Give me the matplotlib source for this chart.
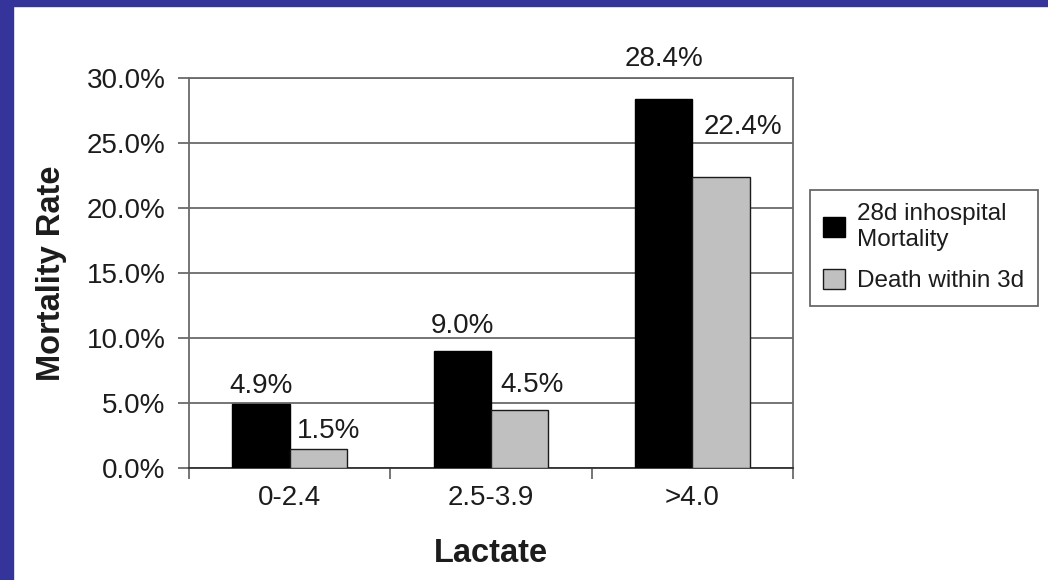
import matplotlib.pyplot as plt
from matplotlib.patches import Rectangle
from matplotlib.ticker import FixedLocator, FuncFormatter

plt.rcParams['font.family'] = ['Liberation Sans', 'DejaVu Sans']

lactate_groups = ['0-2.4', '2.5-3.9', '>4.0']
mortality_28d = [4.9, 9.0, 28.4]
death_3d = [1.5, 4.5, 22.4]
series_names = ['28d inhospital\nMortality', 'Death within 3d']

# label nudges in pixels (dx, dy) above each bar
nudge_28d = [(0, 11), (0, 18), (0, 33)]
nudge_3d = [(10, 11), (12, 18), (22, 43)]

txt = '#1c1c1c'
grid_c = '#6a6a6a'

fig = plt.figure(figsize=(10.48, 5.8), dpi=100)
fig.patch.set_facecolor('white')
# blue frame along the top and left edge
fig.patches.append(Rectangle((0, 1 - 6 / 580), 1, 6 / 580, transform=fig.transFigure,
                             color='#35349a', zorder=0))
fig.patches.append(Rectangle((0, 0), 13 / 1048, 1, transform=fig.transFigure,
                             color='#35349a', zorder=0))

ax = fig.add_axes([189 / 1048, 1 - 468 / 580, (793 - 189) / 1048, (468 - 78) / 580])

w = 0.285
xs = range(len(lactate_groups))
b1 = ax.bar([x - w / 2 for x in xs], mortality_28d, w, color='black',
            edgecolor='black', linewidth=1, zorder=3, label=series_names[0])
b2 = ax.bar([x + w / 2 for x in xs], death_3d, w, color='#c0c0c0',
            edgecolor='#1a1a1a', linewidth=1, zorder=3, label=series_names[1])

for bars, vals, nudges in [(b1, mortality_28d, nudge_28d), (b2, death_3d, nudge_3d)]:
    for bar, v, (dx, dy) in zip(bars, vals, nudges):
        ax.annotate(f'{v:.1f}%', (bar.get_x() + bar.get_width() / 2, v),
                    xytext=(dx, dy), textcoords='offset pixels',
                    ha='center', va='baseline', fontsize=20, color=txt)

ax.set_xlim(-0.5, 2.5)
ax.set_ylim(0, 30)
ax.set_yticks(range(0, 31, 5))
ax.yaxis.set_major_formatter(FuncFormatter(lambda v, p: f'{v:.1f}%'))
ax.yaxis.grid(True, color=grid_c, linewidth=1.3, zorder=0)

# category separators as ticks, names on minor ticks
ax.xaxis.set_major_locator(FixedLocator([-0.5, 0.5, 1.5, 2.5]))
ax.xaxis.set_minor_locator(FixedLocator(list(xs)))
ax.set_xticklabels([])
ax.set_xticklabels(lactate_groups, minor=True)
ax.tick_params(axis='x', which='major', length=8, width=1.3, color=grid_c)
ax.tick_params(axis='x', which='minor', length=0, pad=12, labelsize=20, labelcolor=txt)
ax.tick_params(axis='y', length=8, width=1.3, color=grid_c, pad=9,
               labelsize=20, labelcolor=txt)

for side in ['left', 'right', 'top', 'bottom']:
    ax.spines[side].set_color(grid_c)
    ax.spines[side].set_linewidth(1.3)
ax.spines['bottom'].set_color('#333333')

ax.set_xlabel('Lactate', fontsize=23.5, fontweight='bold', color=txt, labelpad=20)
ax.set_ylabel('Mortality Rate', fontsize=23.5, fontweight='bold', color=txt, labelpad=14)

leg = fig.legend(loc='upper left', bbox_to_anchor=(810 / 1048, 1 - 190 / 580),
                 fontsize=17.5, frameon=True, fancybox=False, edgecolor='#333333',
                 handlelength=0.9, handleheight=0.9, handletextpad=0.5,
                 borderpad=0.55, labelspacing=0.75, borderaxespad=0)
leg.get_frame().set_linewidth(1.2)
for t in leg.get_texts():
    t.set_color(txt)

fig.savefig('out.png', dpi=100)
